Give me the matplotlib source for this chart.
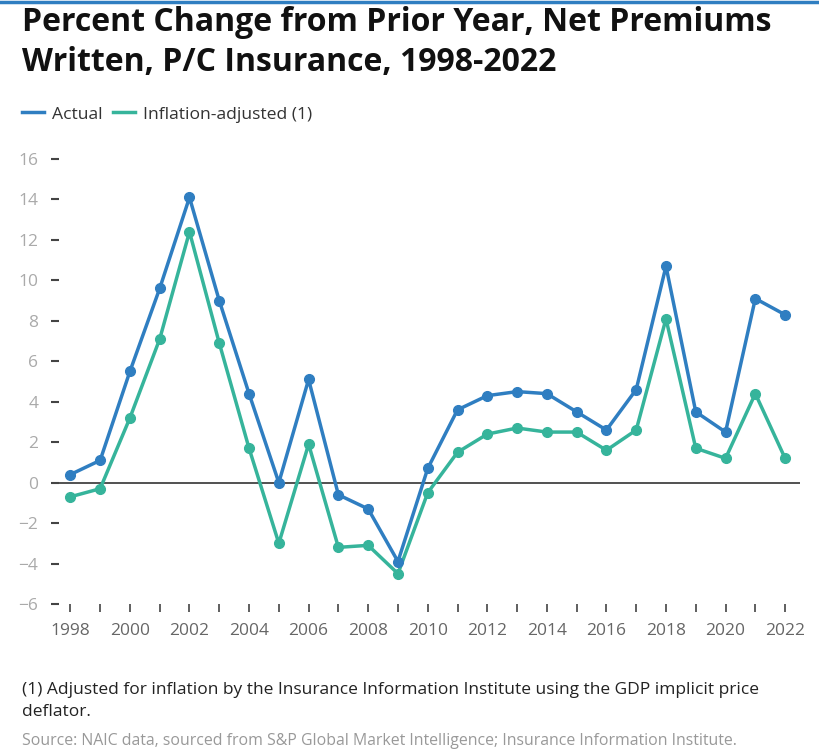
import matplotlib
matplotlib.use("Agg")
import matplotlib.pyplot as plt
from matplotlib.lines import Line2D

years = list(range(1998, 2023))
actual = [0.4, 1.1, 5.5, 9.6, 14.1, 9.0, 4.4, 0.0, 5.1, -0.6, -1.3, -3.9, 0.7,
          3.6, 4.3, 4.5, 4.4, 3.5, 2.6, 4.6, 10.7, 3.5, 2.5, 9.1, 8.3]
inflation_adj = [-0.7, -0.3, 3.2, 7.1, 12.4, 6.9, 1.7, -3.0, 1.9, -3.2, -3.1, -4.5, -0.5,
                 1.5, 2.4, 2.7, 2.5, 2.5, 1.6, 2.6, 8.1, 1.7, 1.2, 4.4, 1.2]
yticks = list(range(-6, 17, 2))
xlabels = list(range(1998, 2023, 2))

BLUE = "#2f7ec1"
TEAL = "#36b49b"

plt.rcParams['font.family'] = ['Open Sans', 'DejaVu Sans']

W, H = 820, 750
fig = plt.figure(figsize=(W / 100, H / 100), dpi=100)

# top accent bar
fig.add_artist(Line2D([0, 1], [1 - 1.5 / H, 1 - 1.5 / H], color=BLUE, lw=2.5,
                      transform=fig.transFigure))

left, right = 51, 800
top, bottom = 159, 604
ax = fig.add_axes([left / W, 1 - bottom / H, (right - left) / W, (bottom - top) / H])

ax.plot(years, actual, color=BLUE, lw=2.5, marker='o', ms=7, zorder=3)
ax.plot(years, inflation_adj, color=TEAL, lw=2.5, marker='o', ms=7, zorder=2)
ax.axhline(0, color="#333333", lw=1.2, zorder=1)

ax.set_ylim(-6, 16)
ax.set_xlim(1997.35, 2022.5)
for s in ax.spines.values():
    s.set_visible(False)
ax.set_yticks(yticks)
ax.set_yticklabels([str(v).replace('-', '\u2212') for v in yticks])
ax.tick_params(axis='y', direction='in', length=6, width=1.5, color="#444444",
               labelcolor="#aaaaaa", labelsize=12.5, pad=9)
ax.set_xticks(years)
ax.set_xticklabels([str(y) if y in xlabels else '' for y in years])
ax.tick_params(axis='x', direction='out', length=6, width=1.2, color="#444444",
               labelcolor="#666666", labelsize=12.5, pad=8)

# title
fig.text(22 / W, 1 - 31 / H, "Percent Change from Prior Year, Net Premiums",
         fontsize=23, fontweight='bold', color="#111111", va='baseline')
fig.text(22 / W, 1 - 71 / H, "Written, P/C Insurance, 1998-2022",
         fontsize=23, fontweight='bold', color="#111111", va='baseline')

# legend
ly = 1 - 112 / H
fig.add_artist(Line2D([22 / W, 44 / W], [ly, ly], color=BLUE, lw=2.5, transform=fig.transFigure))
fig.text(52 / W, 1 - 119 / H, "Actual", fontsize=12.6, color="#333333", va='baseline')
fig.add_artist(Line2D([113 / W, 135 / W], [ly, ly], color=TEAL, lw=2.5, transform=fig.transFigure))
fig.text(143 / W, 1 - 119 / H, "Inflation-adjusted (1)", fontsize=12.6, color="#333333", va='baseline')

# footnotes
fig.text(22 / W, 1 - 694 / H,
         "(1) Adjusted for inflation by the Insurance Information Institute using the GDP implicit price",
         fontsize=12.5, color="#222222", va='baseline')
fig.text(22 / W, 1 - 716 / H, "deflator.", fontsize=12.5, color="#222222", va='baseline')
fig.text(22 / W, 1 - 745 / H,
         "Source: NAIC data, sourced from S&P Global Market Intelligence; Insurance Information Institute.",
         fontsize=11.4, color="#999999", va='baseline')

fig.savefig("out.png", dpi=100)
